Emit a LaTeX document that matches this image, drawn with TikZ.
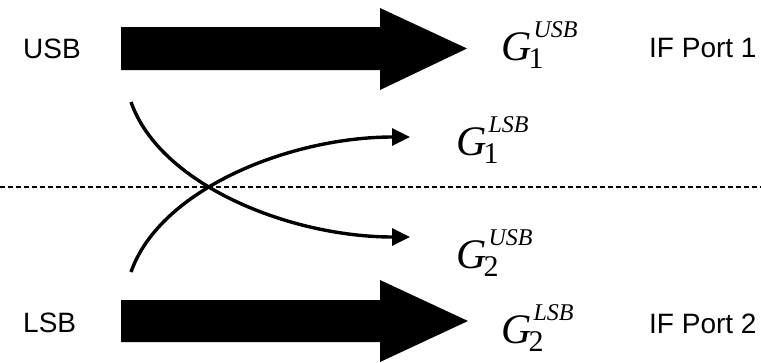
\documentclass[tikz,border=0pt]{standalone}
\usepackage{fontspec}
\setmainfont{Liberation Sans}
\newfontfamily\tnr{Liberation Serif}
\usetikzlibrary{arrows.meta}
\newcommand\glab[2]{{\tnr\itshape\fontsize{42}{42}\selectfont G\rlap{\kern2pt\raisebox{23pt}{\fontsize{24}{24}\selectfont #1}}\kern-3pt\raisebox{-8pt}{\fontsize{30}{30}\selectfont\upshape #2}}}
\tikzset{
  x=1pt, y=-1pt,
  port/.style={anchor=base west, inner sep=0pt, font=\fontsize{28}{28}\selectfont},
  glabel/.style={anchor=base west, inner sep=0pt},
  bigarrow/.style={fill=black, draw=none},
  thinarrow/.style={line width=3.4pt, -{Triangle[length=18pt,width=17pt]}},
  divider/.style={line width=1.5pt, dash pattern=on 5pt off 3pt}
}
\begin{document}
\begin{tikzpicture}
\useasboundingbox (0,0) rectangle (761,362);
% labels
\node[port] (usb) at (23,58) {USB};
\node[port] (lsb) at (23,332) {LSB};
\node[port] (if1) at (649,57) {IF Port 1};
\node[port] (if2) at (649,333) {IF Port 2};
\node[glabel] (g1u) at (501,60) {\glab{USB}{1}};
\node[glabel] (g1l) at (456,155) {\glab{LSB}{1}};
\node[glabel] (g2u) at (456,268) {\glab{USB}{2}};
\node[glabel] (g2l) at (501,343) {\glab{LSB}{2}};
% big arrows
\draw[bigarrow] (121,27) -- (380,27) -- (380,8) -- (467,48.5) -- (380,90) -- (380,70) -- (121,70) -- cycle;
\draw[bigarrow] (121,300) -- (380,300) -- (380,280) -- (468,321) -- (380,362) -- (380,342) -- (121,342) -- cycle;
% dashed divider
\coordinate (dl) at (0,187);
\coordinate (dr) at (761,187);
\draw[divider] (dl) -- (dr);
% crossing curves
\coordinate (s1) at (131,102);
\coordinate (e1) at (410,237);
\coordinate (s2) at (131,272);
\coordinate (e2) at (410,137);
\draw[thinarrow] (s1) .. controls (160,185) and (290,237) .. (e1);
\draw[thinarrow] (s2) .. controls (160,189) and (290,137) .. (e2);
\end{tikzpicture}
\end{document}
